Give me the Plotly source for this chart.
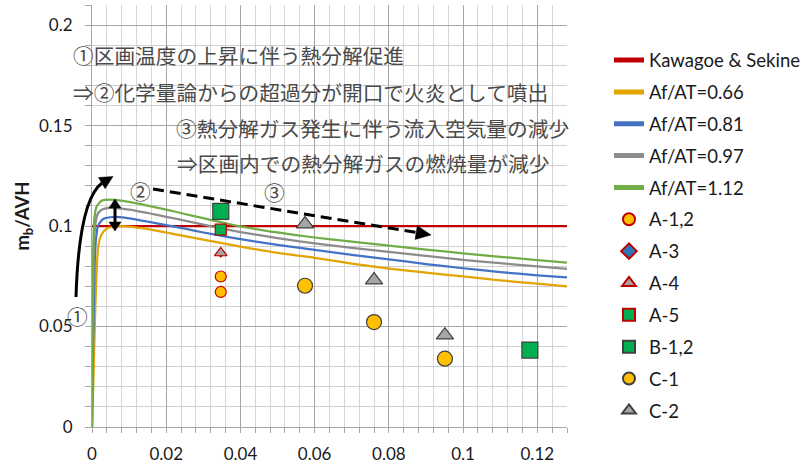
import plotly.graph_objects as go

# ---- data -------------------------------------------------------------
x_max = 0.128

kawagoe_x = [0.0, 0.128]
kawagoe_y = [0.1, 0.1]

af066_x = [0, 0.0004, 0.0006, 0.0009, 0.0013, 0.0017, 0.0025, 0.004, 0.007, 0.01, 0.015, 0.02,
           0.025, 0.03, 0.035, 0.04, 0.05, 0.06, 0.07, 0.08, 0.09, 0.1, 0.11, 0.12, 0.128]
af066_y = [0, 0.025, 0.04, 0.06, 0.08, 0.090, 0.0955, 0.0988, 0.0999, 0.0997, 0.0985, 0.0968,
           0.0950, 0.0932, 0.0915, 0.0898, 0.0866, 0.0842, 0.0813, 0.0788, 0.0768, 0.0749,
           0.0730, 0.0713, 0.0700]

af081_x = [0, 0.0002, 0.0004, 0.0007, 0.001, 0.0016, 0.003, 0.006, 0.01, 0.015, 0.02,
           0.025, 0.03, 0.035, 0.04, 0.05, 0.06, 0.07, 0.08, 0.09, 0.1, 0.11, 0.12, 0.128]
af081_y = [0, 0.03, 0.05, 0.08, 0.092, 0.100, 0.1035, 0.1045, 0.1038, 0.1022, 0.1005,
           0.0987, 0.0968, 0.0951, 0.0935, 0.0906, 0.0882, 0.0857, 0.0834, 0.0811, 0.0790,
           0.0771, 0.0755, 0.0744]

af097_x = [0, 0.0001, 0.0002, 0.0004, 0.0007, 0.0013, 0.0025, 0.005, 0.01, 0.015, 0.02,
           0.025, 0.03, 0.035, 0.04, 0.05, 0.06, 0.07, 0.08, 0.09, 0.1, 0.11, 0.12, 0.128]
af097_y = [0, 0.03, 0.05, 0.08, 0.097, 0.105, 0.108, 0.109, 0.1082, 0.1065, 0.1046,
           0.1027, 0.1007, 0.0988, 0.0970, 0.0940, 0.0914, 0.0891, 0.0871, 0.0851, 0.0832,
           0.0815, 0.0799, 0.0787]

af112_x = [0, 0.00006, 0.00012, 0.0003, 0.0006, 0.0012, 0.0025, 0.005, 0.01, 0.015, 0.02,
           0.025, 0.03, 0.035, 0.04, 0.05, 0.06, 0.07, 0.08, 0.09, 0.1, 0.11, 0.12, 0.128]
af112_y = [0, 0.03, 0.05, 0.085, 0.103, 0.1095, 0.1125, 0.1131, 0.1120, 0.1102, 0.1082,
           0.1060, 0.1039, 0.1018, 0.0998, 0.0968, 0.0943, 0.0922, 0.0903, 0.0883, 0.0864,
           0.0847, 0.0831, 0.0818]

a12_x = [0.0347, 0.0347]
a12_y = [0.0749, 0.0672]
a3_x = [0.0347]
a3_y = [0.0866]
a4_x = [0.0347]
a4_y = [0.0866]
a5_x = [0.0347]
a5_y = [0.0982]
b12_x = [0.0347, 0.118]
b12_y = [0.1073, 0.0383]
c1_x = [0.0574, 0.0760, 0.0951]
c1_y = [0.0703, 0.0522, 0.0340]
c2_x = [0.0574, 0.0760, 0.0951]
c2_y = [0.1010, 0.0731, 0.0457]

x_ticks = [0, 0.02, 0.04, 0.06, 0.08, 0.1, 0.12]
x_tick_text = ["0", "0.02", "0.04", "0.06", "0.08", "0.1", "0.12"]
y_ticks = [0, 0.05, 0.1, 0.15, 0.2]
y_tick_text = ["0", "0.05", "0.1", "0.15", "0.2"]

notes = [
    "①区画温度の上昇に伴う熱分解促進",
    "⇒②化学量論からの超過分が開口で火炎として噴出",
    "③熱分解ガス発生に伴う流入空気量の減少",
    "⇒区画内での熱分解ガスの燃焼量が減少",
]

# ---- page geometry (pixels) -------------------------------------------
W, H = 808, 464
L, T = 92, 5
PW, PH = 475, 422


def px(xp):
    return (xp - L) / PW


def py(yp):
    return 1 - (yp - T) / PH


def head(tip, tail, length, width):
    """Filled triangular arrow head, tip/tail in page pixels."""
    dx, dy = tip[0] - tail[0], tip[1] - tail[1]
    n = (dx * dx + dy * dy) ** 0.5
    ux, uy = dx / n, dy / n
    bx, by = tip[0] - ux * length, tip[1] - uy * length
    nx, ny = -uy, ux
    p1 = (bx + nx * width / 2, by + ny * width / 2)
    p2 = (bx - nx * width / 2, by - ny * width / 2)
    pts = [tip, p1, p2]
    d = "M " + " L ".join(f"{px(a):.5f},{py(b):.5f}" for a, b in pts) + " Z"
    return dict(type="path", path=d, xref="paper", yref="paper",
                fillcolor="black", line=dict(color="black", width=0.5), layer="above")


FONT = "Lato, 'Open Sans', sans-serif"
JP = "'Noto Sans CJK JP', sans-serif"
INK = "#1A1A1A"

fig = go.Figure()

line_w = 2.25
fig.add_trace(go.Scatter(x=kawagoe_x, y=kawagoe_y, mode="lines", name="Kawagoe & Sekine",
                         line=dict(color="#C00000", width=line_w), legendgroup="g1"))
for xs, ys, nm, col, g in [
    (af066_x, af066_y, "Af/AT=0.66", "#E2A400", "g2"),
    (af081_x, af081_y, "Af/AT=0.81", "#4472C4", "g3"),
    (af097_x, af097_y, "Af/AT=0.97", "#8C8C8C", "g4"),
    (af112_x, af112_y, "Af/AT=1.12", "#70AD47", "g5"),
]:
    fig.add_trace(go.Scatter(x=xs, y=ys, mode="lines", name=nm, legendgroup=g,
                             line=dict(color=col, width=line_w, shape="spline", smoothing=0.6)))

markers = [
    (a12_x, a12_y, "A-1,2", "circle", 11, "#FFC000", "#C00000"),
    (a3_x, a3_y, "A-3", "diamond", 6, "#2E75B6", "#C00000"),
    (a4_x, a4_y, "A-4", "triangle-up", 11, "#A5A5A5", "#C00000"),
    (a5_x, a5_y, "A-5", "square", 11, "#00B050", "#C00000"),
    (b12_x, b12_y, "B-1,2", "square", 16, "#00B050", "#404040"),
    (c1_x, c1_y, "C-1", "circle", 15, "#FFC000", "#404040"),
    (c2_x, c2_y, "C-2", "triangle-up", 15, "#A5A5A5", "#404040"),
]
for i, (xs, ys, nm, sym, sz, fc, lc) in enumerate(markers):
    fig.add_trace(go.Scatter(x=xs, y=ys, mode="markers", name=nm, legendgroup=f"m{i}",
                             marker=dict(symbol=sym, size=sz, color=fc,
                                         line=dict(color=lc, width=1.2))))

# ---- explanatory text --------------------------------------------------
ann = []
for txt, xp, yp in [(notes[0], 71, 55), (notes[1], 71, 92), (notes[2], 174, 128), (notes[3], 175, 163)]:
    ann.append(dict(text=txt, x=px(xp), y=py(yp), xref="paper", yref="paper",
                    xanchor="left", yanchor="middle", showarrow=False,
                    font=dict(family=JP, size=20.7, color="#4A4A4A")))
for txt, xp, yp in [("②", 140, 191), ("③", 274, 192), ("①", 77.5, 316)]:
    ann.append(dict(text=txt, x=px(xp), y=py(yp), xref="paper", yref="paper",
                    xanchor="center", yanchor="middle", showarrow=False,
                    font=dict(family=JP, size=20.7, color="#4A4A4A")))

# ---- arrows ------------------------------------------------------------
shapes = []
# curved arrow (temperature rise)
shapes.append(dict(type="path", xref="paper", yref="paper", layer="above",
                   path=f"M {px(76):.5f},{py(297):.5f} Q {px(79):.5f},{py(200):.5f} {px(102):.5f},{py(183):.5f}",
                   line=dict(color="black", width=3)))
shapes.append(head((113, 176.5), (102, 183), 13, 13))
# double-headed vertical arrow
shapes.append(dict(type="line", xref="paper", yref="paper", layer="above",
                   x0=px(115), x1=px(115), y0=py(207), y1=py(223),
                   line=dict(color="black", width=3)))
shapes.append(head((115, 199), (115, 215), 9, 12))
shapes.append(head((115, 231), (115, 215), 9, 12))
# dashed arrow (decreasing combustion)
shapes.append(dict(type="line", xref="paper", yref="paper", layer="above",
                   x0=px(153), y0=py(189), x1=px(417), y1=py(232.6),
                   line=dict(color="black", width=3, dash="11px,6px")))
shapes.append(head((431, 235), (153, 189), 15, 14))

grid_major = "#A6A6A6"
fig.update_layout(
    width=W, height=H,
    margin=dict(l=L, r=W - L - PW, t=T, b=H - T - PH, pad=0, autoexpand=False),
    paper_bgcolor="white", plot_bgcolor="white",
    font=dict(family=FONT, size=17, color=INK),
    showlegend=True,
    legend=dict(x=px(609), y=py(41.5), xanchor="left", yanchor="top",
                font=dict(family=FONT, size=18.5, color=INK),
                tracegroupgap=4.8, itemsizing="constant", bgcolor="rgba(0,0,0,0)"),
    annotations=ann,
    shapes=shapes,
    xaxis=dict(range=[0, x_max], tickvals=x_ticks, ticktext=x_tick_text, automargin=False,
               showgrid=True, gridcolor=grid_major, gridwidth=1,
               showline=True, linecolor=grid_major, linewidth=1,
               ticks="outside", ticklen=5, tickcolor=grid_major,
               ticklabelstandoff=7, zeroline=False,
               minor=dict(dtick=0.004, showgrid=True, gridcolor="#D6D6D6", gridwidth=1,
                          ticks="outside", ticklen=5, tickcolor=grid_major),
               tickfont=dict(family=FONT, size=17, color=INK)),
    yaxis=dict(range=[0, 0.21], tickvals=y_ticks, ticktext=y_tick_text, automargin=False,
               showgrid=True, gridcolor=grid_major, gridwidth=1,
               showline=True, linecolor=grid_major, linewidth=1,
               ticks="outside", ticklen=6, tickcolor=grid_major,
               ticklabelstandoff=9, zeroline=False,
               minor=dict(dtick=0.01, showgrid=True, gridcolor="#CFCFCF", gridwidth=1,
                          ticks="outside", ticklen=6, tickcolor=grid_major),
               tickfont=dict(family=FONT, size=17, color=INK),
               title=dict(text="<b>m<sub>b</sub>/AVH</b>", standoff=4,
                          font=dict(family=FONT, size=18.5, color=INK))),
)

fig.write_html("out.html")
